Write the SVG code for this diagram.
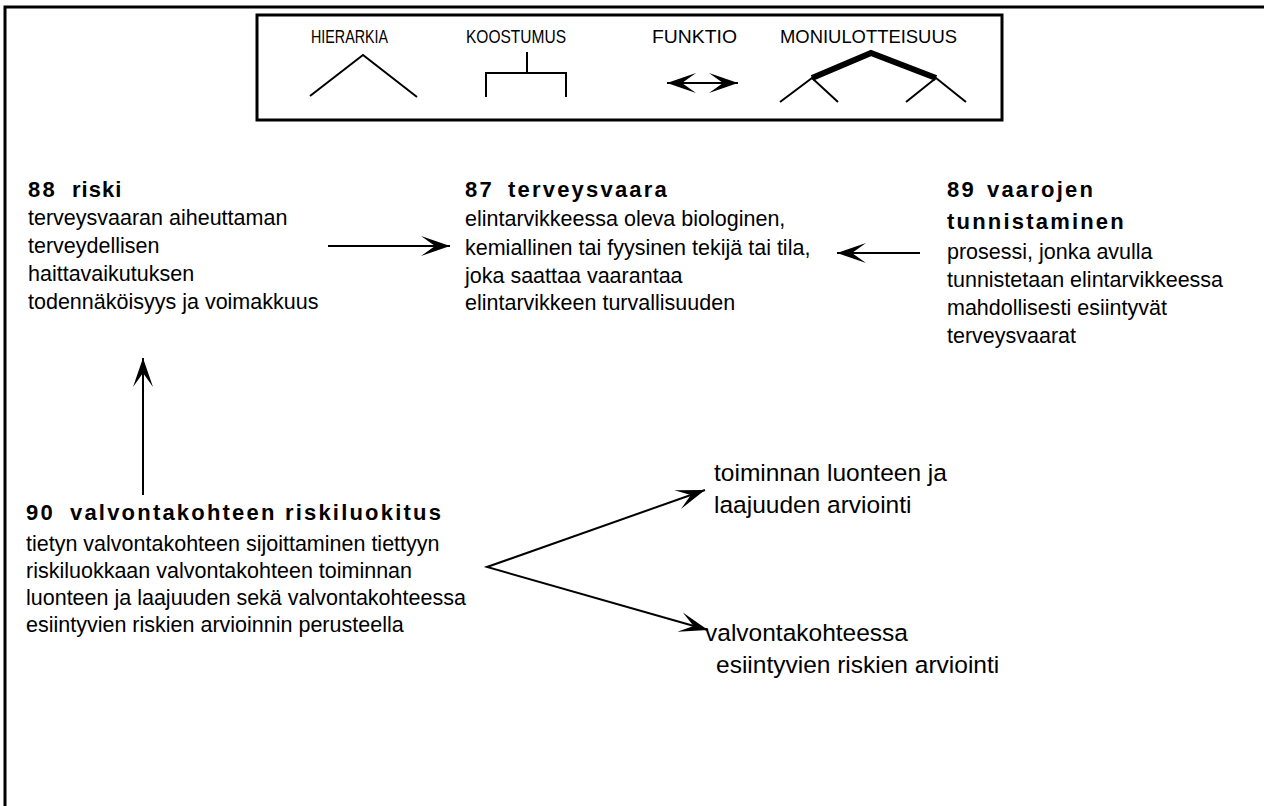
<svg xmlns="http://www.w3.org/2000/svg" width="1264" height="806" viewBox="0 0 1264 806">
<defs>
<style>
.frame{fill:none;stroke:#000;stroke-width:3}
.ln{fill:none;stroke:#000;stroke-width:2}
.thick{fill:none;stroke:#000;stroke-width:6}
.leg{font-family:"Liberation Sans",Arial,sans-serif;font-size:18px;fill:#000}
.ttl{font-family:"Liberation Sans",Arial,sans-serif;font-size:22px;font-weight:bold;letter-spacing:2.2px;fill:#000}
.body{font-family:"Liberation Sans",Arial,sans-serif;font-size:21.5px;fill:#000}
.br{font-family:"Liberation Sans",Arial,sans-serif;font-size:24.5px;fill:#000}
</style>
<marker id="ah" viewBox="-30 -12 32 24" refX="0" refY="0" markerWidth="32" markerHeight="24" markerUnits="userSpaceOnUse" orient="auto-start-reverse">
<path d="M0,0 L-29,-10 L-15,0 L-29,10 Z" fill="#000"/>
</marker>
</defs>
<rect width="1264" height="806" fill="#fff"/>
<path class="frame" d="M5,806 V7 H1264"/>
<g id="legend">
<rect class="frame" x="257" y="15" width="745" height="105"/>
<text class="leg" x="311" y="43" textLength="77" lengthAdjust="spacingAndGlyphs">HIERARKIA</text>
<text class="leg" x="466" y="43" textLength="100" lengthAdjust="spacingAndGlyphs">KOOSTUMUS</text>
<text class="leg" x="652" y="43" textLength="85" lengthAdjust="spacingAndGlyphs">FUNKTIO</text>
<text class="leg" x="780" y="43" textLength="177" lengthAdjust="spacingAndGlyphs">MONIULOTTEISUUS</text>
<path class="ln" d="M310,96 L363,55 L417,97"/>
<path class="ln" d="M527,52 V73 M486,97 V73 H566 V97"/>
<line class="ln" x1="667" y1="83" x2="738" y2="83" marker-start="url(#ah)" marker-end="url(#ah)"/>
<path class="thick" d="M812,78 L871,53 L936,78"/>
<path class="ln" d="M780,102 L812,78 L838,102 M906,102 L936,78 L966,102"/>
</g>
<g id="node88">
<text class="ttl" x="28" y="197">88</text>
<text class="ttl" x="72" y="197" style="letter-spacing:1px">riski</text>
<text class="body" x="28" y="225">terveysvaaran aiheuttaman</text>
<text class="body" x="28" y="253">terveydellisen</text>
<text class="body" x="28" y="281">haittavaikutuksen</text>
<text class="body" x="28" y="309">todennäköisyys ja voimakkuus</text>
</g>
<g id="node87">
<text class="ttl" x="465" y="197">87</text>
<text class="ttl" x="508" y="197">terveysvaara</text>
<text class="body" x="465" y="226">elintarvikkeessa oleva biologinen,</text>
<text class="body" x="465" y="255">kemiallinen tai fyysinen tekijä tai tila,</text>
<text class="body" x="465" y="283">joka saattaa vaarantaa</text>
<text class="body" x="465" y="310">elintarvikkeen turvallisuuden</text>
</g>
<g id="node89">
<text class="ttl" x="947" y="197">89</text>
<text class="ttl" x="987" y="197">vaarojen</text>
<text class="ttl" x="947" y="229">tunnistaminen</text>
<text class="body" x="947" y="259">prosessi, jonka avulla</text>
<text class="body" x="947" y="287">tunnistetaan elintarvikkeessa</text>
<text class="body" x="947" y="315">mahdollisesti esiintyvät</text>
<text class="body" x="947" y="343">terveysvaarat</text>
</g>
<g id="node90">
<text class="ttl" x="26" y="520">90</text>
<text class="ttl" x="70" y="520">valvontakohteen riskiluokitus</text>
<text class="body" x="26" y="551">tietyn valvontakohteen sijoittaminen tiettyyn</text>
<text class="body" x="26" y="578">riskiluokkaan valvontakohteen toiminnan</text>
<text class="body" x="26" y="605">luonteen ja laajuuden sekä valvontakohteessa</text>
<text class="body" x="26" y="632">esiintyvien riskien arvioinnin perusteella</text>
</g>
<g id="branch1">
<text class="br" x="714" y="481">toiminnan luonteen ja</text>
<text class="br" x="714" y="513">laajuuden arviointi</text>
</g>
<g id="branch2">
<text class="br" x="705" y="641">valvontakohteessa</text>
<text class="br" x="716" y="673">esiintyvien riskien arviointi</text>
</g>
<g id="connectors">
<line class="ln" x1="328" y1="246" x2="450" y2="246" marker-end="url(#ah)"/>
<line class="ln" x1="920" y1="253" x2="837" y2="253" marker-end="url(#ah)"/>
<line class="ln" x1="143" y1="495" x2="143" y2="358" marker-end="url(#ah)"/>
<path class="ln" d="M705,490 L487,567 L708,630" marker-start="url(#ah)" marker-end="url(#ah)"/>
</g>
</svg>
